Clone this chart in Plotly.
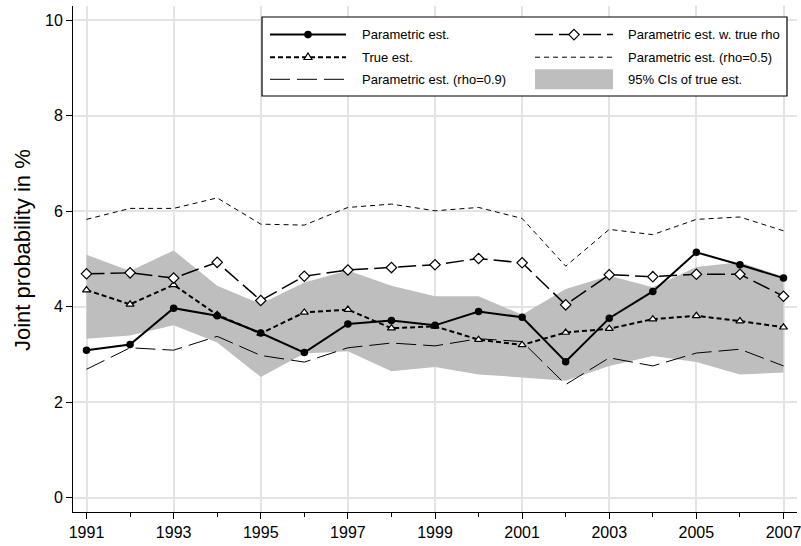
import plotly.graph_objects as go

years = list(range(1991, 2008))
param_est = [3.09, 3.21, 3.97, 3.81, 3.45, 3.04, 3.64, 3.71, 3.61, 3.90, 3.78, 2.85, 3.76, 4.32, 5.14, 4.88, 4.60]
param_true_rho = [4.69, 4.71, 4.60, 4.93, 4.13, 4.64, 4.77, 4.82, 4.88, 5.01, 4.92, 4.04, 4.67, 4.63, 4.68, 4.68, 4.22]
true_est = [4.35, 4.05, 4.46, 3.83, 3.44, 3.88, 3.94, 3.55, 3.59, 3.31, 3.20, 3.46, 3.54, 3.74, 3.81, 3.70, 3.57]
param_rho05 = [5.83, 6.06, 6.06, 6.28, 5.73, 5.71, 6.08, 6.15, 6.01, 6.08, 5.85, 4.85, 5.62, 5.51, 5.83, 5.88, 5.59]
param_rho09 = [2.69, 3.14, 3.09, 3.38, 2.98, 2.84, 3.14, 3.24, 3.18, 3.33, 3.27, 2.37, 2.93, 2.76, 3.03, 3.11, 2.76]
ci_upper = [5.09, 4.75, 5.18, 4.44, 4.06, 4.51, 4.76, 4.44, 4.22, 4.22, 3.83, 4.37, 4.65, 4.41, 4.83, 4.93, 4.63]
ci_lower = [3.33, 3.40, 3.61, 3.25, 2.53, 3.02, 3.07, 2.65, 2.74, 2.58, 2.52, 2.45, 2.76, 2.97, 2.84, 2.58, 2.62]

x_tick_vals = list(range(1991, 2008, 2))
x_minor_vals = list(range(1992, 2007, 2))
y_tick_vals = [0, 2, 4, 6, 8, 10]

legend_labels = ["Parametric est.", "Parametric est. w. true rho", "True est.",
                 "Parametric est. (rho=0.5)", "Parametric est. (rho=0.9)", "95% CIs of true est."]

FONT = "Liberation Sans, Arial, sans-serif"
GRAY = "#bebebe"

LINES = {
    "param": dict(color="black", width=2),
    "truerho": dict(color="black", width=1.5, dash="18px,6px"),
    "true": dict(color="black", width=2, dash="5px,3px"),
    "rho05": dict(color="black", width=1, dash="5px,4px"),
    "rho09": dict(color="black", width=1, dash="20px,7px"),
}
MARKERS = {
    "param": dict(symbol="circle", size=7.5, color="black"),
    "truerho": dict(symbol="diamond", size=8, color="white", line=dict(color="black", width=1.2)),
    "true": dict(symbol="triangle-up", size=7, color="white", line=dict(color="black", width=1.2)),
}

fig = go.Figure()

# CI band
fig.add_trace(go.Scatter(x=years, y=ci_upper, mode="lines", line=dict(width=0, color=GRAY),
                         showlegend=False, hoverinfo="skip"))
fig.add_trace(go.Scatter(x=years, y=ci_lower, mode="lines", line=dict(width=0, color=GRAY),
                         fill="tonexty", fillcolor=GRAY, showlegend=False, hoverinfo="skip"))

fig.add_trace(go.Scatter(x=years, y=param_rho05, mode="lines", line=LINES["rho05"], showlegend=False))
fig.add_trace(go.Scatter(x=years, y=param_rho09, mode="lines", line=LINES["rho09"], showlegend=False))
fig.add_trace(go.Scatter(x=years, y=true_est, mode="lines+markers", line=LINES["true"],
                         marker=MARKERS["true"], showlegend=False))
fig.add_trace(go.Scatter(x=years, y=param_true_rho, mode="lines+markers", line=LINES["truerho"],
                         marker=MARKERS["truerho"], showlegend=False))
fig.add_trace(go.Scatter(x=years, y=param_est, mode="lines+markers", line=LINES["param"],
                         marker=MARKERS["param"], showlegend=False))

# ---- layout geometry (pixels) ----
W, H = 801, 546
L, R, T, B = 73, 4, 6, 34
PW, PH = W - L - R, H - T - B


def px(x):
    return (x - L) / PW


def py(y):
    return 1 - (y - T) / PH


# ---- legend box (drawn by hand to mimic the Stata key layout) ----
fig.add_shape(type="rect", xref="paper", yref="paper", x0=px(262), x1=px(787), y0=py(17), y1=py(96),
              line=dict(color="black", width=1.2), fillcolor="white", layer="above")

rows_y = [34.6, 57.2, 79.3]
col_sym = [(270, 346), (535, 613)]
col_txt = [360, 626]
keys = [("param", 0, 0), ("truerho", 1, 0), ("true", 0, 1), ("rho05", 1, 1), ("rho09", 0, 2), ("ci", 1, 2)]
marker_paths = {
    "truerho": "M0,5.2 L5.2,0 L0,-5.2 L-5.2,0 Z",
    "true": "M0,4.2 L4,-2.3 L-4,-2.3 Z",
}
for (key, c, r), label in zip(keys, legend_labels):
    x0, x1 = col_sym[c]
    yy = rows_y[r]
    if key == "ci":
        fig.add_shape(type="rect", xref="paper", yref="paper", x0=px(x0), x1=px(x1),
                      y0=py(yy - 10), y1=py(yy + 10), line=dict(width=0), fillcolor=GRAY, layer="above")
    else:
        ln = LINES[key]
        fig.add_shape(type="line", xref="paper", yref="paper", x0=px(x0), x1=px(x1), y0=py(yy), y1=py(yy),
                      line=dict(color=ln["color"], width=ln["width"], dash=ln.get("dash", "solid")),
                      layer="above")
        xc = px((x0 + x1) / 2)
        if key == "param":
            fig.add_shape(type="circle", xref="paper", yref="paper", xsizemode="pixel", ysizemode="pixel",
                          xanchor=xc, yanchor=py(yy), x0=-3.8, x1=3.8, y0=-3.8, y1=3.8,
                          fillcolor="black", line=dict(color="black", width=0), layer="above")
        elif key in marker_paths:
            fig.add_shape(type="path", xref="paper", yref="paper", xsizemode="pixel", ysizemode="pixel",
                          xanchor=xc, yanchor=py(yy), path=marker_paths[key],
                          fillcolor="white", line=dict(color="black", width=1.2), layer="above")
    fig.add_annotation(x=px(col_txt[c]), y=py(yy), xref="paper", yref="paper", text=label, showarrow=False,
                       xanchor="left", yanchor="middle", font=dict(family=FONT, size=13, color="black"))

fig.update_layout(
    width=W, height=H,
    margin=dict(l=L, r=R, t=T, b=B, pad=0),
    paper_bgcolor="white", plot_bgcolor="white",
    showlegend=False,
    font=dict(family=FONT, color="black"),
    xaxis=dict(range=[1990.69, 2007.31], tickmode="array", tickvals=x_tick_vals,
               ticktext=[str(v) for v in x_tick_vals], automargin=False, ticklabeloverflow="allow",
               showgrid=True, gridcolor="#e4e4e4", gridwidth=1.5, zeroline=False,
               showline=True, linecolor="black", linewidth=1, ticks="outside", ticklen=6,
               tickcolor="black", tickfont=dict(size=16, family=FONT),
               minor=dict(tickvals=x_minor_vals, ticks="outside", ticklen=4,
                          tickcolor="black", showgrid=False)),
    yaxis=dict(range=[-0.3, 10.3], tickmode="array", tickvals=y_tick_vals, automargin=False,
               showgrid=True, gridcolor="#e4e4e4", gridwidth=1.5, zeroline=False,
               showline=True, linecolor="black", linewidth=1, ticks="outside", ticklen=6,
               tickcolor="black", tickfont=dict(size=16, family=FONT)),
)

fig.add_annotation(text="Joint probability in %", xref="paper", yref="paper", x=0, y=py(250),
                   xanchor="center", yanchor="middle", xshift=-51, textangle=-90, showarrow=False,
                   font=dict(family=FONT, size=22, color="black"))

fig.write_html("out.html", config={"displayModeBar": False},
               post_script="document.body.style.margin='0';document.body.style.padding='0';")
